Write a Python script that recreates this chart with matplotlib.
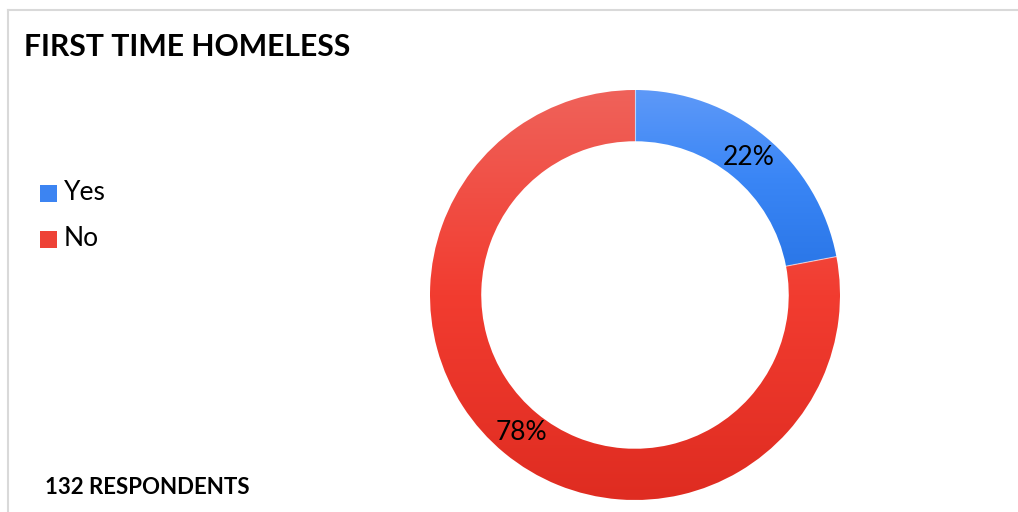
import numpy as np
import matplotlib.pyplot as plt
from matplotlib.colors import LinearSegmentedColormap
from matplotlib.patches import Rectangle

labels = ['Yes', 'No']
values = [22, 78]
pct_labels = ['22%', '78%']
# gradient stops, bottom -> top
grad_colors = [['#2b77e8', '#3a86f6', '#5e99f8'],
               ['#df2c21', '#f23c30', '#ef625a']]
legend_colors = ['#3c84f2', '#ee4236']

W, H = 1018, 512
fig = plt.figure(figsize=(W / 100, H / 100), dpi=100)
fig.patch.set_facecolor('white')

def px(x, y):
    return x / W, 1 - y / H

# light frame (top and left edges visible)
fig.add_artist(plt.Line2D([8 / W, 1], [1 - 9.5 / H, 1 - 9.5 / H], color='#d9d9d9', lw=1.5))
fig.add_artist(plt.Line2D([8 / W, 8 / W], [0, 1 - 9.5 / H], color='#d9d9d9', lw=1.5))

# donut: center (635, 295), outer radius 205 px
cx, cy, R = 635, 295, 205
ax = fig.add_axes([(cx - R) / W, (H - cy - R) / H, 2 * R / W, 2 * R / H])
wedges, _ = ax.pie(values, startangle=90, counterclock=False, radius=1.0,
                   wedgeprops=dict(width=0.25, linewidth=0), colors=legend_colors)
ax.set_xlim(-1, 1)
ax.set_ylim(-1, 1)
ax.set_aspect('equal')
ax.axis('off')

for w, stops in zip(wedges, grad_colors):
    ext = w.get_path().get_extents(w.get_transform() - ax.transData)
    cmap = LinearSegmentedColormap.from_list('g', stops)
    grad = np.linspace(0, 1, 256).reshape(-1, 1)
    im = ax.imshow(grad, cmap=cmap, origin='lower', aspect='auto',
                   extent=[ext.x0, ext.x1, ext.y0, ext.y1], zorder=2)
    im.set_clip_path(w)
    w.set_alpha(0)

# thin white separators
ang = 90
for v in values:
    a = np.deg2rad(ang)
    ax.plot([0.75 * np.cos(a), np.cos(a)], [0.75 * np.sin(a), np.sin(a)],
            color='white', lw=0.8, alpha=0.6, zorder=3)
    ang -= v / sum(values) * 360

# percentage labels
ang = 90
for v, t in zip(values, pct_labels):
    mid = np.deg2rad(ang - v / sum(values) * 180)
    ax.text(0.87 * np.cos(mid), 0.87 * np.sin(mid), t, ha='center', va='center',
            fontsize=19, family='Lato', zorder=4)
    ang -= v / sum(values) * 360

fig.text(*px(24, 47), 'FIRST TIME HOMELESS', fontsize=21.7, fontweight='bold',
         family='Lato', va='center', ha='left')
fig.text(*px(45, 488), '132 RESPONDENTS', fontsize=16, fontweight='bold',
         family='Lato', va='center', ha='left')

# legend
for i, (lab, c) in enumerate(zip(labels, legend_colors)):
    yc = 193 + i * 46
    x0, y0 = px(40, yc + 8.5)
    fig.add_artist(Rectangle((x0, y0), 17 / W, 17 / H, facecolor=c,
                             edgecolor='none', transform=fig.transFigure))
    fig.text(*px(64, yc), lab, fontsize=19, family='Lato', va='center', ha='left')

fig.savefig('out.png', dpi=100)
